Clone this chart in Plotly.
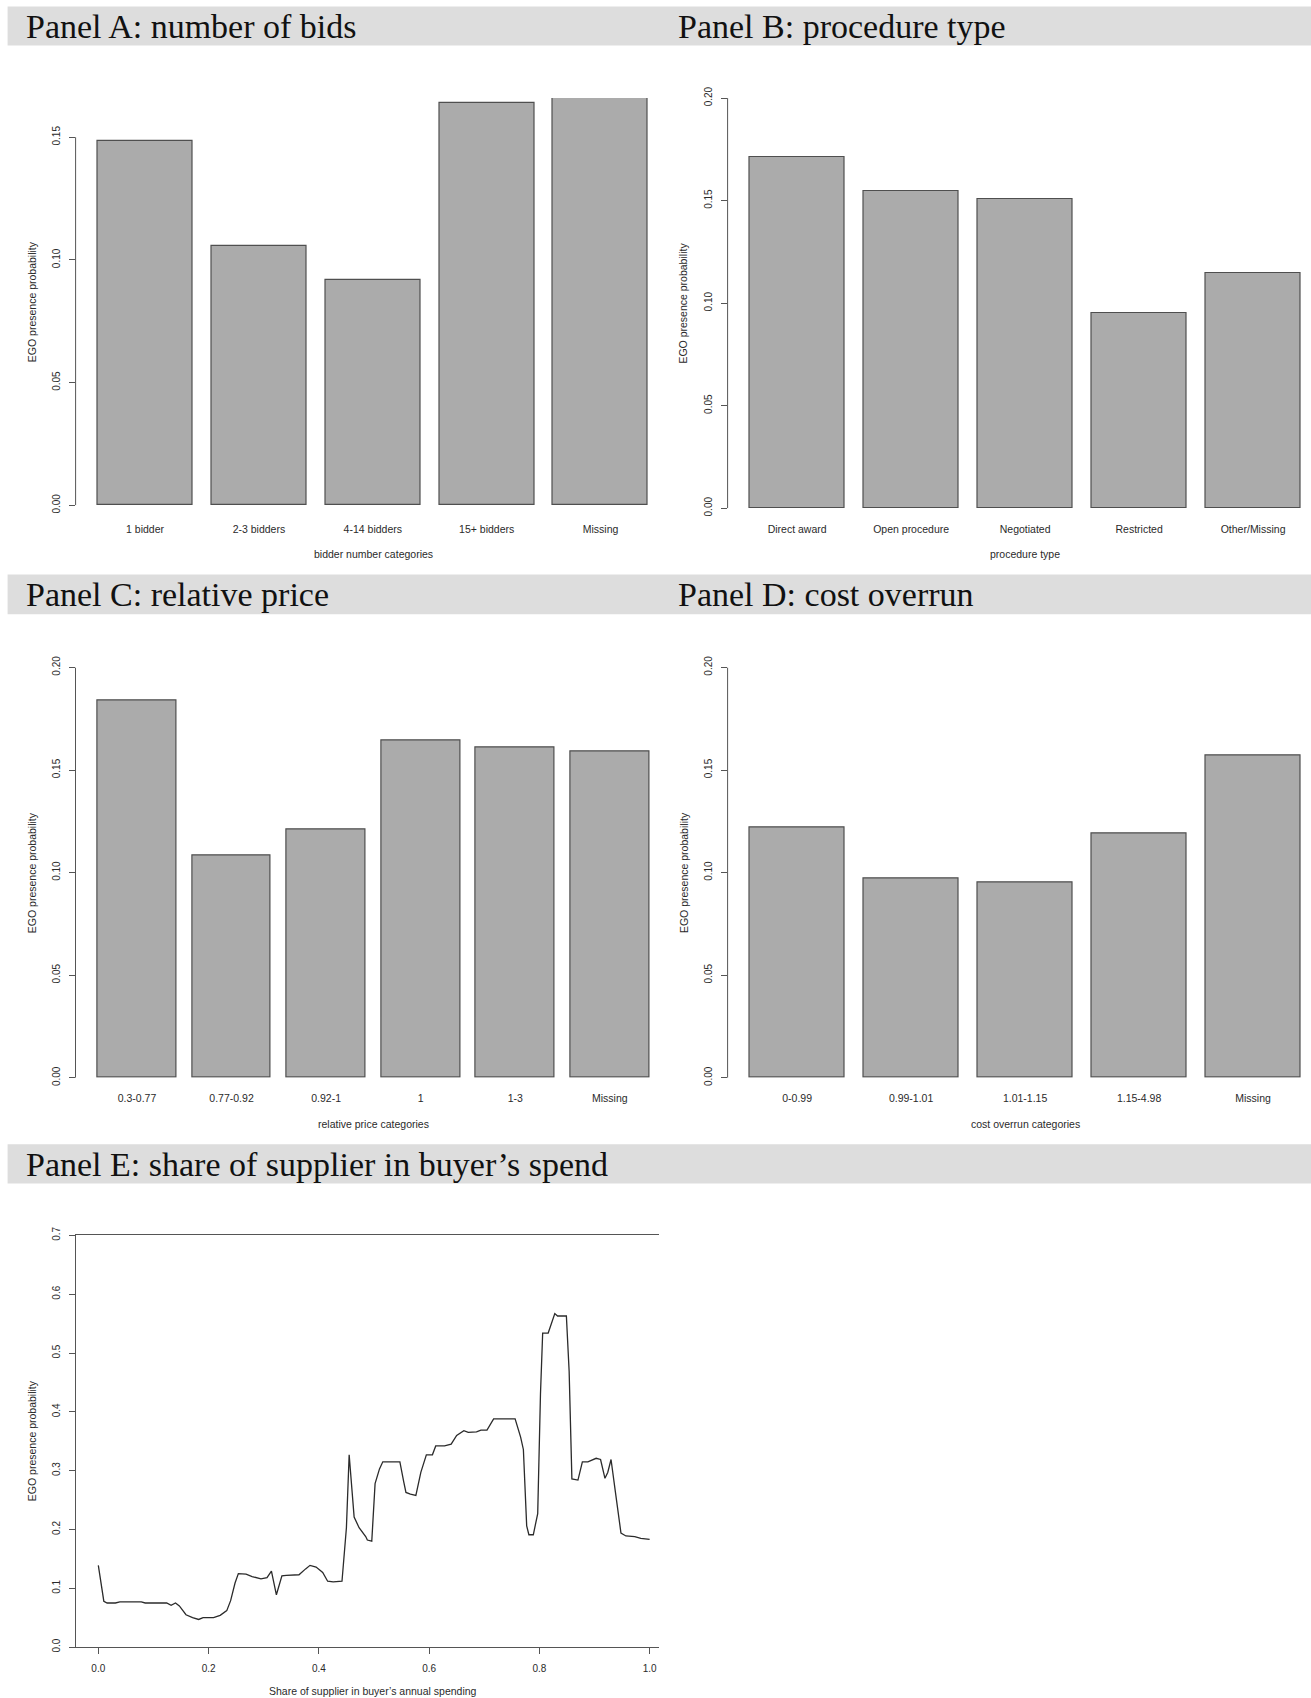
import plotly.graph_objects as go

W, H = 1311, 1698

# ---------------- data ----------------
bid_categories = ["1 bidder", "2-3 bidders", "4-14 bidders", "15+ bidders", "Missing"]
bid_values = [0.1486, 0.1055, 0.0920, 0.1640, 0.1660]

proc_categories = ["Direct award", "Open procedure", "Negotiated", "Restricted", "Other/Missing"]
proc_values = [0.1710, 0.1548, 0.1508, 0.0953, 0.1145]

price_categories = ["0.3-0.77", "0.77-0.92", "0.92-1", "1", "1-3", "Missing"]
price_values = [0.1840, 0.1084, 0.1212, 0.1642, 0.1610, 0.1589]

overrun_categories = ["0-0.99", "0.99-1.01", "1.01-1.15", "1.15-4.98", "Missing"]
overrun_values = [0.1220, 0.0971, 0.0951, 0.1190, 0.1571]

share_x = [0.000, 0.010, 0.016, 0.031, 0.039, 0.062, 0.070, 0.078, 0.085, 0.124,
           0.132, 0.140, 0.147, 0.159, 0.171, 0.182, 0.190, 0.209, 0.221, 0.233,
           0.240, 0.248, 0.254, 0.268, 0.279, 0.295, 0.306, 0.314, 0.323, 0.333,
           0.341, 0.364, 0.376, 0.384, 0.395, 0.407, 0.416, 0.426, 0.442, 0.450,
           0.455, 0.460, 0.464, 0.473, 0.485, 0.488, 0.496, 0.502, 0.510, 0.516,
           0.547, 0.554, 0.558, 0.566, 0.576, 0.585, 0.595, 0.606, 0.612, 0.628,
           0.640, 0.650, 0.663, 0.671, 0.686, 0.694, 0.705, 0.717, 0.756, 0.766,
           0.771, 0.777, 0.781, 0.789, 0.797, 0.802, 0.806, 0.816, 0.822, 0.828,
           0.833, 0.849, 0.854, 0.859, 0.870, 0.878, 0.888, 0.903, 0.911, 0.919,
           0.924, 0.930, 0.938, 0.948, 0.957, 0.973, 0.984, 1.000]
share_y = [0.139, 0.078, 0.075, 0.075, 0.077, 0.077, 0.076, 0.077, 0.075, 0.075,
           0.071, 0.075, 0.070, 0.055, 0.050, 0.047, 0.050, 0.050, 0.054, 0.062,
           0.079, 0.109, 0.125, 0.124, 0.120, 0.116, 0.118, 0.129, 0.089, 0.121,
           0.122, 0.123, 0.133, 0.139, 0.136, 0.127, 0.112, 0.111, 0.112, 0.203,
           0.327, 0.275, 0.221, 0.203, 0.188, 0.182, 0.180, 0.278, 0.303, 0.315,
           0.315, 0.281, 0.263, 0.260, 0.258, 0.297, 0.327, 0.327, 0.342, 0.342,
           0.345, 0.360, 0.368, 0.365, 0.366, 0.369, 0.369, 0.388, 0.388, 0.357,
           0.336, 0.206, 0.191, 0.191, 0.227, 0.430, 0.534, 0.534, 0.551, 0.567,
           0.563, 0.563, 0.469, 0.286, 0.284, 0.315, 0.315, 0.321, 0.319, 0.287,
           0.297, 0.319, 0.263, 0.194, 0.189, 0.188, 0.185, 0.183]

panel_titles = ["Panel A: number of bids", "Panel B: procedure type",
                "Panel C: relative price", "Panel D: cost overrun",
                "Panel E: share of supplier in buyer\u2019s spend"]
x_titles = ["bidder number categories", "procedure type", "relative price categories",
            "cost overrun categories", "Share of supplier in buyer\u2019s annual spending"]
y_title = "EGO presence probability"

# ---------------- styling ----------------
BAR_FILL = "#ababab"
BAR_EDGE = "#4f4f4f"
AXIS_COL = "#555555"
TXT_COL = "#2a2a2a"
BAND_COL = "#dddddd"
SANS = "Liberation Sans, Arial, sans-serif"
SERIF = "Liberation Serif, Times New Roman, serif"


def dx(a, b):
    return [a / W, b / W]


def dy(top, bottom):
    return [1 - bottom / H, 1 - top / H]


fig = go.Figure()

bar_panels = [
    # categories, values, axis suffix, x-domain px, y-domain px, x-range, y-range, y-line top, label standoff
    (bid_categories, bid_values, "", (75.6, 670.0), (98.0, 505.3), [-0.61, 4.61], [0, 0.166], 0.15, 16),
    (proc_categories, proc_values, "2", (727.6, 1311.0), (98.1, 508.2), [-0.61, 4.508], [0, 0.2], 0.2, 13),
    (price_categories, price_values, "3", (75.5, 671.3), (667.4, 1077.8), [-0.65, 5.65], [0, 0.2], 0.2, 13),
    (overrun_categories, overrun_values, "4", (727.6, 1311.0), (667.4, 1077.8), [-0.61, 4.508], [0, 0.2], 0.2, 13),
]

shapes = []
annotations = []
layout_axes = {}

for cats, vals, sfx, xd, yd, xr, yr, ytop, stand in bar_panels:
    fig.add_trace(go.Bar(
        x=cats, y=vals, width=1 / 1.2,
        marker=dict(color=BAR_FILL, line=dict(color=BAR_EDGE, width=1.2)),
        xaxis="x" + sfx, yaxis="y" + sfx, showlegend=False, hoverinfo="skip",
    ))
    layout_axes["xaxis" + sfx] = dict(
        domain=dx(*xd), range=xr, type="category", anchor="y" + sfx,
        showgrid=False, zeroline=False, showline=False, ticks="",
        tickfont=dict(family=SANS, size=10.5, color=TXT_COL),
        ticklabelstandoff=stand, fixedrange=True, automargin=False,
    )
    layout_axes["yaxis" + sfx] = dict(
        domain=dy(*yd), range=yr, anchor="x" + sfx,
        showgrid=False, zeroline=False, showline=False,
        ticks="outside", ticklen=6, tickwidth=1, tickcolor=AXIS_COL,
        tickmode="linear", tick0=0, dtick=0.05, tickformat=".2f",
        tickangle=-90, ticklabelstandoff=5,
        tickfont=dict(family=SANS, size=10, color=TXT_COL), fixedrange=True,
        automargin=False,
    )
    shapes.append(dict(type="line", xref=("x" + sfx + " domain"), yref="y" + sfx,
                       x0=0, x1=0, y0=0, y1=ytop,
                       line=dict(color=AXIS_COL, width=1)))

# Panel E line chart
fig.add_trace(go.Scatter(
    x=share_x, y=share_y, mode="lines",
    line=dict(color="#2b2b2b", width=1.3),
    xaxis="x5", yaxis="y5", showlegend=False, hoverinfo="skip",
))
layout_axes["xaxis5"] = dict(
    domain=dx(76.1, 659.0), range=[-0.0403, 1.017], anchor="y5",
    showgrid=False, zeroline=False, showline=True, mirror=True,
    linecolor=AXIS_COL, linewidth=1,
    ticks="outside", ticklen=6, tickcolor=AXIS_COL,
    tickmode="linear", tick0=0, dtick=0.2, tickformat=".1f",
    ticklabelstandoff=6,
    tickfont=dict(family=SANS, size=10, color=TXT_COL), fixedrange=True,
    automargin=False,
)
layout_axes["yaxis5"] = dict(
    domain=dy(1235.4, 1647.1), range=[0, 0.7], anchor="x5",
    showgrid=False, zeroline=False, showline=True, linecolor=AXIS_COL, linewidth=1,
    ticks="outside", ticklen=6, tickcolor=AXIS_COL,
    tickmode="linear", tick0=0, dtick=0.1, tickformat=".1f",
    tickangle=-90, ticklabelstandoff=5,
    tickfont=dict(family=SANS, size=10, color=TXT_COL), fixedrange=True,
    automargin=False,
)

# title bands
band_rows = [(6.5, 45.4), (574.4, 614.3), (1144.3, 1183.4)]
for top, bot in band_rows:
    shapes.append(dict(type="rect", xref="paper", yref="paper",
                       x0=7.6 / W, x1=1.0, y0=1 - bot / H, y1=1 - top / H,
                       fillcolor=BAND_COL, line=dict(width=0), layer="below"))

# panel titles (x px, y-center px)
title_pos = [(24, 26.7), (676, 26.7), (24, 594.6), (676, 594.6), (24, 1164.3)]
for txt, (px, py) in zip(panel_titles, title_pos):
    annotations.append(dict(text=txt, xref="paper", yref="paper",
                            x=px / W, y=1 - py / H, xanchor="left", yanchor="middle",
                            showarrow=False,
                            font=dict(family=SERIF, size=34, color="#111111")))

# x axis titles (center x px, center y px)
xt_pos = [(373, 554.3), (1025, 554.3), (373, 1124.3), (1025, 1124.3), (373, 1690.5)]
for txt, (px, py) in zip(x_titles, xt_pos):
    annotations.append(dict(text=txt, xref="paper", yref="paper",
                            x=px / W, y=1 - py / H, xanchor="center", yanchor="middle",
                            showarrow=False,
                            font=dict(family=SANS, size=10.5, color=TXT_COL)))

# y axis titles (center x px, center y px)
yt_pos = [(31.6, 301.6), (683.5, 303.1), (31.6, 872.6), (683.5, 872.6), (32.0, 1441.2)]
for px, py in yt_pos:
    annotations.append(dict(text=y_title, xref="paper", yref="paper",
                            x=px / W, y=1 - py / H, xanchor="center", yanchor="middle",
                            textangle=-90, showarrow=False,
                            font=dict(family=SANS, size=10.5, color=TXT_COL)))

fig.update_layout(
    width=W, height=H, autosize=False,
    margin=dict(l=0, r=0, t=0, b=0, pad=0, autoexpand=False),
    paper_bgcolor="white", plot_bgcolor="white",
    bargap=0, shapes=shapes, annotations=annotations,
    **layout_axes,
)

page_fix = (
    "var gd = document.getElementById('{plot_id}');"
    "gd.style.position='absolute'; gd.style.left='0px'; gd.style.top='0px';"
    "document.documentElement.style.margin='0';"
    "document.body.style.margin='0';"
    "document.body.style.padding='0';"
    "document.documentElement.style.height='" + str(H) + "px';"
    "document.body.style.height='" + str(H) + "px';"
    "document.documentElement.style.overflow='hidden';"
    "document.body.style.overflow='hidden';"
)

fig.write_html("out.html", include_plotlyjs=True,
               config={"displayModeBar": False, "responsive": False},
               post_script=page_fix)
